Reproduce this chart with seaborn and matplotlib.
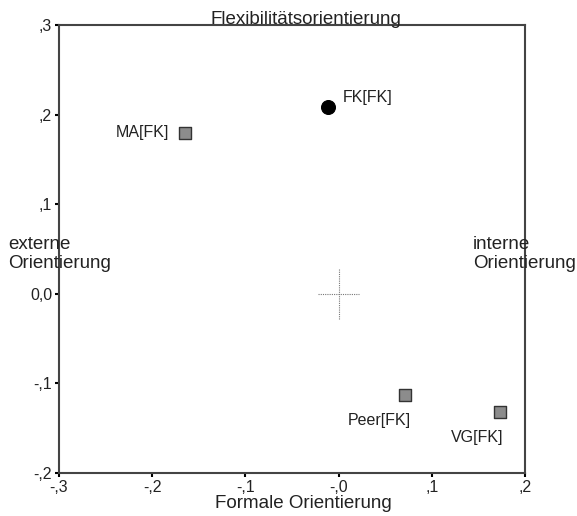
import pandas as pd
import seaborn as sns
import matplotlib.pyplot as plt

# coordinates of the groups
groups = ['FK[FK]', 'MA[FK]', 'Peer[FK]', 'VG[FK]']
formal = [-0.011, -0.165, 0.071, 0.173]
flex = [0.208, 0.180, -0.113, -0.132]
kind = ['self', 'other', 'other', 'other']

xticks = [-0.3, -0.2, -0.1, 0.0, 0.1, 0.2]
xticklabels = ['-,3', '-,2', '-,1', '-,0', ',1', ',2']
yticks = [-0.2, -0.1, 0.0, 0.1, 0.2, 0.3]
yticklabels = ['-,2', '-,1', '0,0', ',1', ',2', ',3']

df = pd.DataFrame({'group': groups, 'x': formal, 'y': flex, 'kind': kind})

sns.set_style('white')
plt.rcParams['font.family'] = ['Liberation Sans', 'DejaVu Sans']

fig = plt.figure(figsize=(5.77, 5.16), dpi=100)
ax = fig.add_axes([0.1023, 0.0833, 0.8076, 0.8683])

sns.scatterplot(data=df[df['kind'] == 'other'], x='x', y='y', marker='s', s=64,
                color='#8c8c8c', edgecolor='#333333', linewidth=1, ax=ax, zorder=3)
sns.scatterplot(data=df[df['kind'] == 'self'], x='x', y='y', marker='o', s=100,
                color='black', edgecolor='black', ax=ax, zorder=3)

# point labels: offset in points, alignment
offsets = {'FK[FK]': (10, 7, 'left'), 'MA[FK]': (-11, 0, 'right'),
           'Peer[FK]': (4.5, -18, 'right'), 'VG[FK]': (2.5, -18, 'right')}
for g, xv, yv in zip(groups, formal, flex):
    dx, dy, ha = offsets[g]
    ax.annotate(g, (xv, yv), xytext=(dx, dy), textcoords='offset points',
                ha=ha, va='center', fontsize=11.5, color='#222222')

# centre cross
ax.plot([-0.022, 0.022], [0, 0], color='#777777', lw=0.8, ls=(0, (1, 1)))
ax.plot([0, 0], [-0.028, 0.028], color='#777777', lw=0.8, ls=(0, (1, 1)))

ax.set_xlim(-0.3, 0.2)
ax.set_ylim(-0.2, 0.3)
ax.set_xticks(xticks)
ax.set_xticklabels(xticklabels)
ax.set_yticks(yticks)
ax.set_yticklabels(yticklabels)
ax.tick_params(axis='both', length=3, width=1.5, color='black', labelsize=11.5, pad=2,
               direction='out', labelcolor='#222222')
ax.tick_params(left=True, bottom=True)
ax.set_xlabel('')
ax.set_ylabel('')
for sp in ax.spines.values():
    sp.set_color('#444444')
    sp.set_linewidth(1.5)

fig.text(306 / 577, 1 - 24 / 516, 'Flexibilitätsorientierung', ha='center', va='baseline',
         fontsize=13.5, color='#222222')
fig.text(303 / 577, 1 - 503 / 516, 'Formale Orientierung', ha='center', va='center',
         fontsize=13.5, color='#222222')
fig.text(8 / 577, 1 - 254 / 516, 'externe\nOrientierung', ha='left', va='center',
         fontsize=13.5, linespacing=1.1, color='#222222')
fig.text(473 / 577, 1 - 254 / 516, 'interne\nOrientierung', ha='left', va='center',
         fontsize=13.5, linespacing=1.1, color='#222222')

fig.savefig('out.png', dpi=100)
